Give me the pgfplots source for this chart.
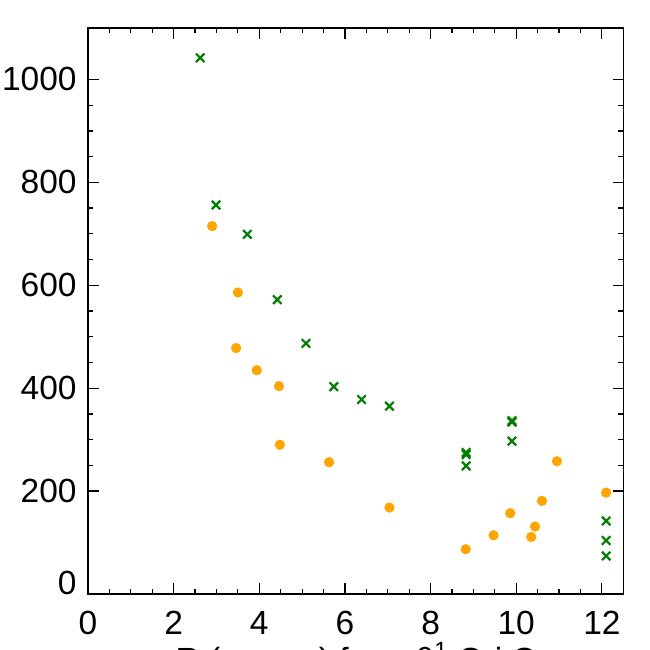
\documentclass[border=0pt]{standalone}
\usepackage{fontspec}
\setmainfont{Liberation Sans}
\usepackage{pgfplots}
\pgfplotsset{compat=1.18}
\definecolor{igreen}{RGB}{0,128,0}
\definecolor{iorange}{RGB}{255,165,0}
\begin{document}
\fontsize{16.75bp}{20bp}\selectfont
\begin{tikzpicture}
\begin{axis}[
  at={(0,0)}, anchor=south west,
  scale only axis, width=267.65bp, height=283bp,
  xmin=0, xmax=12.5, ymin=0, ymax=1100,
  xtick={0,2,...,12}, ytick={200,400,...,1000},
  extra y ticks={0},
  extra y tick style={yticklabel style={yshift=5.5bp}},
  minor x tick num=3, minor y tick num=3,
  tick align=inside, major tick length=5.3bp, minor tick length=2.5bp,
  axis line style={line width=0.75bp},
  every tick/.style={black, line width=0.6bp},
  tick label style={font=\fontsize{16.75bp}{20bp}\selectfont, inner sep=0pt},
  /pgf/number format/assume math mode=true,
  /pgf/number format/set thousands separator={},
  xticklabel shift=8.5bp, yticklabel shift=5.5bp,
  xlabel={R (arcsec) from θ\textsuperscript{1} Ori C},
  xlabel style={at={(axis description cs:0.5,0)}, anchor=north, yshift=-24bp, inner sep=0pt, font=\fontsize{16.75bp}{20bp}\selectfont},
  clip=false,
]
\addplot[only marks, mark=x, mark size=3bp, draw=igreen, mark options={line width=1.1bp}] coordinates {
(2.62,1042) (2.99,756) (3.72,699) (4.42,572) (5.09,487) (5.74,403)
(6.39,378) (7.04,365) (8.83,275) (8.83,271) (8.83,249) (9.90,337)
(9.90,334) (9.90,297) (12.10,142) (12.10,104) (12.10,74)
};
\addplot[only marks, mark=*, mark size=2.35bp, draw=iorange, fill=iorange] coordinates {
(2.90,715) (3.50,586) (3.46,478) (3.94,435) (4.46,404) (4.48,290)
(5.63,256) (7.04,168) (8.82,87) (9.47,114) (9.86,157) (10.35,111)
(10.44,131) (10.60,181) (10.95,258) (12.10,197)
};
\end{axis}
\pgfresetboundingbox
\path[use as bounding box] (-44bp,-28bp) rectangle (281bp,297bp);
\end{tikzpicture}
\end{document}
